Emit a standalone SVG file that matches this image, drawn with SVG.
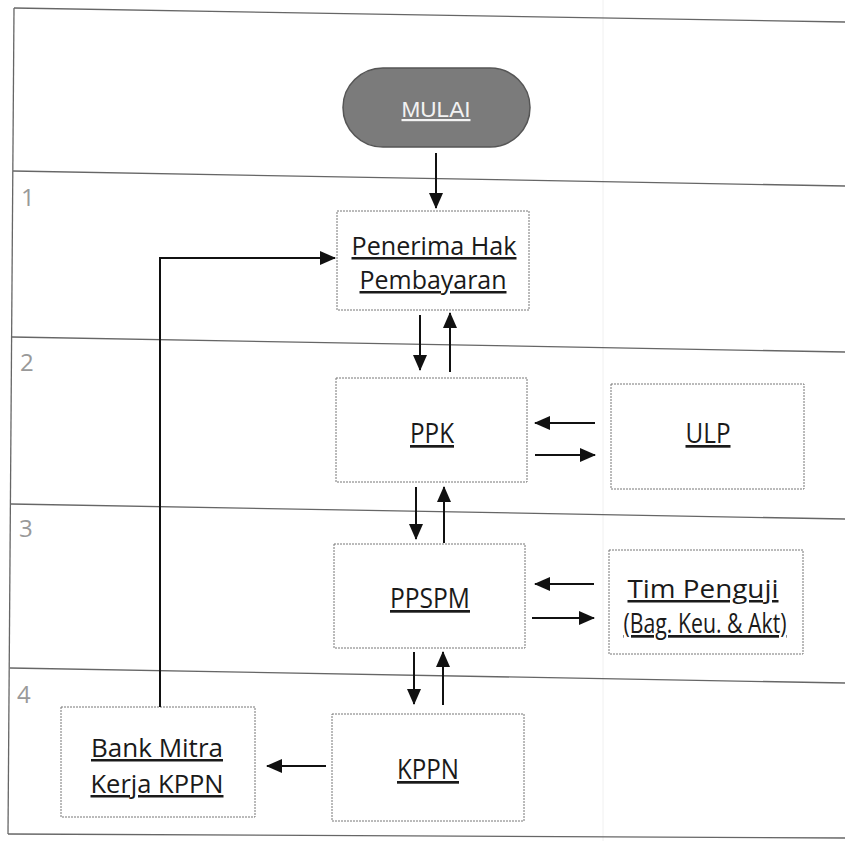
<svg xmlns="http://www.w3.org/2000/svg" width="845" height="841" viewBox="0 0 845 841">
<style>
.lane{stroke:#666;stroke-width:1.3;fill:none}
.box{fill:#fff;stroke:#777;stroke-width:1;stroke-dasharray:2 1}
.lbl{font-family:"Open Sans","Noto Sans",sans-serif;font-size:27px;fill:#1a1a1a;text-anchor:middle;text-decoration:underline}
.two{font-size:25px}
.num{font-family:"Open Sans","Noto Sans",sans-serif;font-size:24px;fill:#999}
.con{stroke:#111;stroke-width:2;fill:none}
</style>
<defs>
<marker id="ah" markerWidth="16" markerHeight="14" refX="15" refY="7" orient="auto" markerUnits="userSpaceOnUse">
<path d="M0,0 L16,7 L0,14 Z" fill="#111"/>
</marker>
</defs>
<rect width="845" height="841" fill="#fff"/>
<g id="frame">
<line x1="603" y1="0" x2="603" y2="841" stroke="#f0f0f0" stroke-width="1"/>
<line class="lane" x1="14" y1="8" x2="845" y2="22"/>
<line class="lane" x1="14" y1="8" x2="8" y2="834"/>
<line class="lane" x1="13" y1="171" x2="845" y2="186"/>
<line class="lane" x1="12" y1="337" x2="845" y2="352"/>
<line class="lane" x1="11" y1="504" x2="845" y2="519"/>
<line class="lane" x1="10" y1="668" x2="845" y2="683"/>
<line class="lane" x1="8" y1="834" x2="845" y2="838"/>
<text class="num" x="21" y="206">1</text>
<text class="num" x="20" y="371">2</text>
<text class="num" x="19" y="537">3</text>
<text class="num" x="17" y="703">4</text>
</g>
<g id="mulai">
<rect x="343" y="68" width="187" height="79" rx="40" ry="40" fill="#7b7b7b" stroke="#555" stroke-width="1.5"/>
<text x="436" y="117" font-family="Liberation Sans, Arial, sans-serif" font-size="22" fill="#f2f2f2" text-anchor="middle" text-decoration="underline" textLength="69" lengthAdjust="spacingAndGlyphs">MULAI</text>
</g>
<g id="penerima">
<rect class="box" x="337" y="211" width="192" height="99"/>
<text class="lbl two" x="434" y="255" textLength="165" lengthAdjust="spacingAndGlyphs">Penerima Hak</text>
<text class="lbl two" x="433" y="289" textLength="147" lengthAdjust="spacingAndGlyphs">Pembayaran</text>
</g>
<g id="ppk">
<rect class="box" x="336" y="378" width="191" height="104"/>
<text class="lbl" x="432" y="443" textLength="44" lengthAdjust="spacingAndGlyphs">PPK</text>
</g>
<g id="ulp">
<rect class="box" x="611" y="384" width="193" height="105"/>
<text class="lbl" x="708" y="443" textLength="45" lengthAdjust="spacingAndGlyphs">ULP</text>
</g>
<g id="ppspm">
<rect class="box" x="334" y="544" width="191" height="104"/>
<text class="lbl" x="430" y="608" textLength="80" lengthAdjust="spacingAndGlyphs">PPSPM</text>
</g>
<g id="timpenguji">
<rect class="box" x="609" y="550" width="194" height="104"/>
<text class="lbl two" x="703" y="598" textLength="151" lengthAdjust="spacingAndGlyphs">Tim Penguji</text>
<text class="lbl" x="705" y="633" font-size="16" textLength="163" lengthAdjust="spacingAndGlyphs">(Bag. Keu. &amp; Akt)</text>
</g>
<g id="bank">
<rect class="box" x="61" y="707" width="194" height="110"/>
<text class="lbl two" x="157" y="757" textLength="132" lengthAdjust="spacingAndGlyphs">Bank Mitra</text>
<text class="lbl two" x="157" y="793" textLength="133" lengthAdjust="spacingAndGlyphs">Kerja KPPN</text>
</g>
<g id="kppn">
<rect class="box" x="332" y="714" width="192" height="107"/>
<text class="lbl" x="428" y="779" textLength="62" lengthAdjust="spacingAndGlyphs">KPPN</text>
</g>
<g id="connectors">
<line class="con" x1="436" y1="153" x2="436" y2="208" marker-end="url(#ah)"/>
<path class="con" d="M160,707 V258 H335" marker-end="url(#ah)"/>
<line class="con" x1="420" y1="315" x2="420" y2="370" marker-end="url(#ah)"/>
<line class="con" x1="450" y1="372" x2="450" y2="313" marker-end="url(#ah)"/>
<line class="con" x1="595" y1="423" x2="535" y2="423" marker-end="url(#ah)"/>
<line class="con" x1="535" y1="455" x2="595" y2="455" marker-end="url(#ah)"/>
<line class="con" x1="416" y1="487" x2="416" y2="539" marker-end="url(#ah)"/>
<line class="con" x1="444" y1="543" x2="444" y2="487" marker-end="url(#ah)"/>
<line class="con" x1="594" y1="584" x2="535" y2="584" marker-end="url(#ah)"/>
<line class="con" x1="532" y1="618" x2="594" y2="618" marker-end="url(#ah)"/>
<line class="con" x1="414" y1="652" x2="414" y2="704" marker-end="url(#ah)"/>
<line class="con" x1="443" y1="705" x2="443" y2="652" marker-end="url(#ah)"/>
<line class="con" x1="326" y1="766" x2="267" y2="766" marker-end="url(#ah)"/>
</g>
</svg>
